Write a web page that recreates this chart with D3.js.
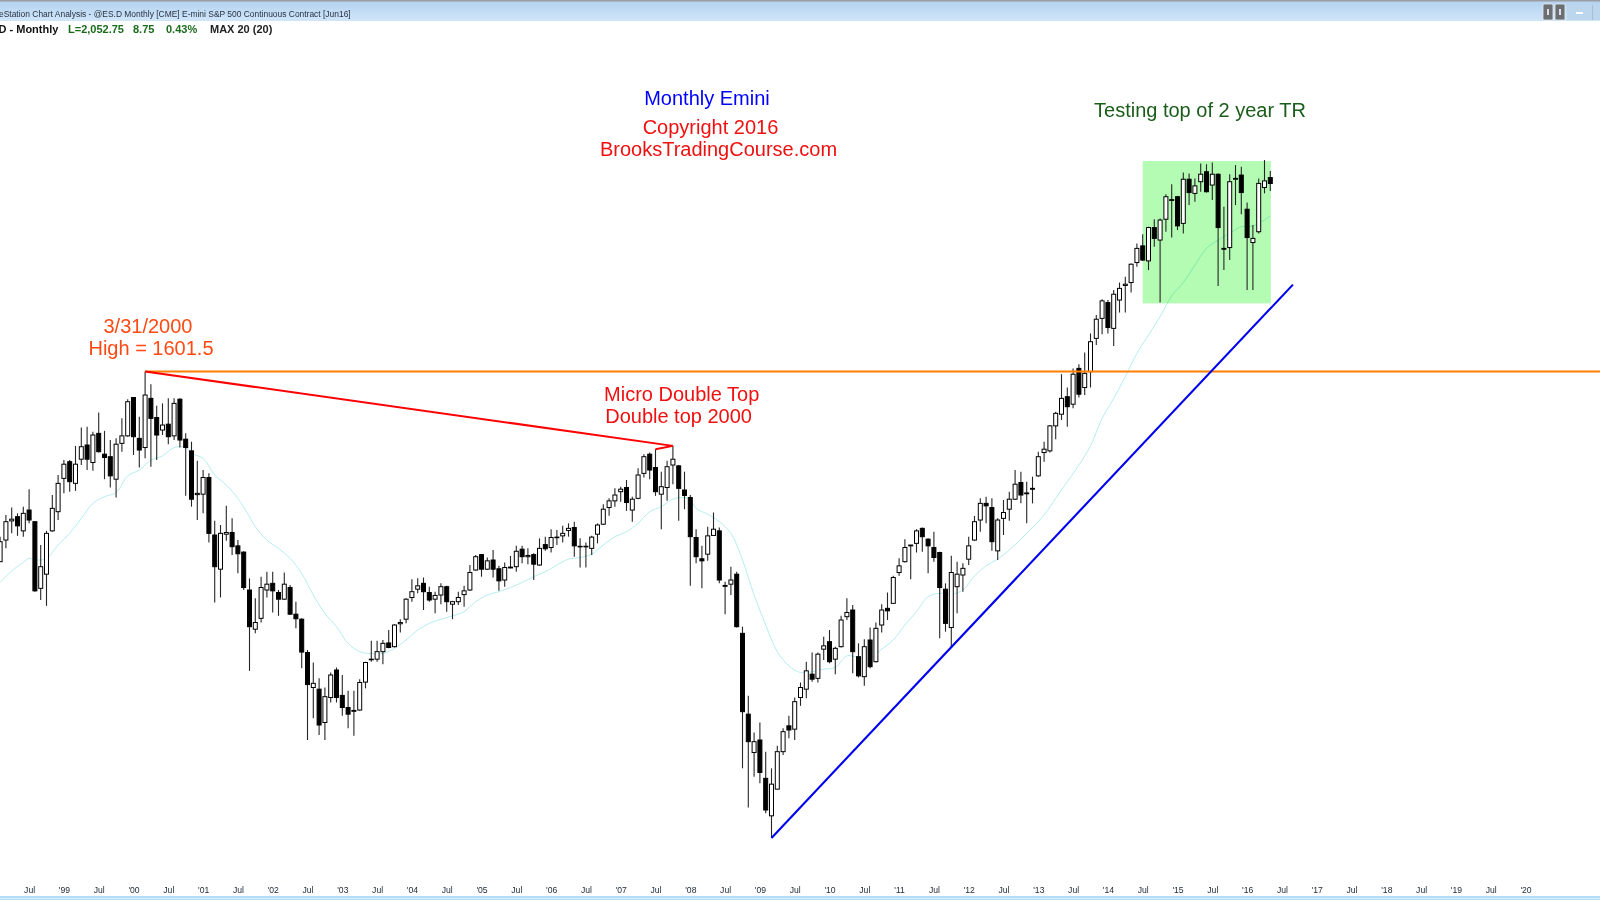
<!DOCTYPE html>
<html>
<head>
<meta charset="utf-8">
<title>Monthly Emini</title>
<script src="https://cdn.jsdelivr.net/npm/d3@7/dist/d3.min.js"></script>
<style>
  html, body { margin: 0; padding: 0; background: #fff; }
  svg { display: block; }
  text { font-family: "Liberation Sans", Arial, sans-serif; }
</style>
</head>
<body>
<div id="chart"></div>
<script>
// ES monthly bars, Feb 1998 to May 2016 (bar 0 = Feb 98)
var opens = [
  1145,1197,1243,1253,1219,1269,1241,1081,1115,1219,
  1265,1345,1385,1333,1391,1425,1383,1453,1403,1397,
  1343,1429,1447,1539,1441,1419,1537,1491,1461,1475,
  1447,1535,1439,1411,1306,1307,1347,1209,1127,1211,
  1215,1183,1168,1077,983,1009,1077,1093,1071,1055,
  1083,1019,1007,927,843,839,759,819,885,824,
  795,788,789,856,911,911,929,950,941,996,
  1007,1059,1079,1093,1071,1055,1065,1085,1043,1049,
  1066,1077,1125,1162,1127,1149,1128,1101,1130,1133,
  1175,1157,1162,1137,1186,1179,1203,1207,1220,1227,
  1182,1181,1177,1211,1235,1275,1291,1313,1323,1269,
  1297,1357,1403,1371,1307,1323,1377,1375,1317,1299,
  1203,1152,1163,1208,1219,1088,1091,1115,973,779,
  687,717,625,535,599,689,751,743,819,839,
  875,865,935,953,911,941,1013,1029,917,869,
  957,905,993,1033,1045,1119,1145,1183,1189,1225,
  1199,1179,1167,1079,987,1085,1113,1151,1197,1245,
  1285,1275,1171,1249,1271,1295,1335,1310,1321,1351,
  1407,1411,1471,1499,1541,1523,1609,1563,1601,1681,
  1729,1767,1705,1773,1808,1815,1863,1903,1867,1947,
  1917,1967,2014,2021,1957,2063,2029,2057,2081,2049,
  2075,1897,1899,2063,2073,1991,1911,1937,2043,2067
];
var highs = [
  1205,1257,1275,1261,1277,1319,1241,1185,1219,1305,
  1353,1389,1389,1423,1467,1469,1457,1503,1459,1437,
  1441,1489,1535,1539,1493,1601.5,1571,1519,1525,1537,
  1537,1537,1453,1433,1387,1365,1357,1243,1233,1279,
  1249,1197,1170,1105,1057,1109,1121,1121,1077,1119,
  1089,1049,1009,933,903,865,843,879,891,873,
  835,835,863,905,955,955,957,981,995,1007,
  1057,1103,1105,1107,1085,1073,1093,1087,1051,1073,
  1087,1137,1161,1163,1155,1173,1135,1143,1159,1183,
  1183,1177,1165,1201,1205,1223,1221,1231,1237,1241,
  1201,1191,1207,1237,1283,1297,1321,1325,1341,1301,
  1369,1403,1407,1415,1361,1387,1423,1377,1361,1305,
  1223,1183,1229,1263,1227,1097,1133,1121,989,823,
  735,759,689,649,703,745,775,819,855,905,
  927,927,965,981,941,1015,1057,1041,949,959,
  987,999,1043,1071,1111,1153,1199,1185,1223,1227,
  1201,1217,1169,1093,1159,1145,1141,1205,1255,1297,
  1301,1297,1249,1293,1313,1365,1361,1337,1349,1409,
  1433,1473,1505,1595,1563,1609,1619,1647,1693,1737,
  1775,1773,1797,1815,1829,1861,1909,1931,1949,1967,
  1969,2027,2051,2023,2079,2077,2065,2101,2099,2103,
  2077,1997,2075,2097,2093,2007,1953,2065,2109,2083
];
var lows = [
  1145,1177,1213,1207,1205,1237,1073,1053,1039,1217,
  1245,1309,1313,1315,1377,1365,1363,1407,1343,1323,
  1299,1409,1445,1401,1371,1393,1373,1389,1449,1427,
  1437,1419,1303,1277,1245,1261,1191,1047,1059,1195,
  1161,1117,1077,883,973,999,1059,1023,1015,1053,
  1017,985,889,717,769,729,717,807,807,775,
  745,727,787,841,905,905,899,937,939,975,
  997,1049,1069,1029,1049,1021,1043,1025,1007,1041,
  1037,1075,1123,1109,1125,1107,1075,1085,1129,1121,
  1141,1139,1101,1135,1171,1167,1185,1191,1205,1157,
  1131,1131,1161,1189,1233,1255,1277,1289,1267,1241,
  1295,1347,1343,1303,1223,1291,1331,1243,1271,1087,
  1141,1081,1147,1207,1093,1019,1065,987,649,555,
  629,613,541,482,598,681,721,717,799,817,
  857,855,909,901,875,939,1005,877,867,847,
  889,903,975,1005,1044,1111,1143,1103,1167,1169,
  1117,1145,961,977,939,1021,1073,1137,1195,1217,
  1237,1171,1149,1209,1243,1293,1285,1237,1285,1349,
  1385,1407,1439,1485,1469,1513,1539,1545,1563,1665,
  1691,1693,1663,1743,1743,1791,1853,1867,1845,1901,
  1767,1937,1923,1941,1933,2001,2009,2033,2031,2013,
  1807,1845,1869,2001,1979,1797,1797,1933,2029,2035
];
var closes = [
  1193,1241,1247,1231,1261,1245,1075,1133,1213,1273,
  1333,1379,1337,1379,1421,1391,1449,1409,1395,1351,
  1427,1447,1529,1445,1413,1545,1489,1449,1473,1445,
  1525,1437,1419,1295,1309,1347,1213,1133,1213,1215,
  1181,1164,1083,989,999,1083,1091,1075,1055,1091,
  1019,1008,928,850,853,753,821,873,819,795,
  779,786,855,903,910,929,949,939,993,999,
  1055,1073,1087,1073,1053,1064,1085,1049,1049,1059,
  1075,1119,1157,1127,1147,1127,1099,1131,1132,1170,
  1157,1160,1139,1177,1176,1203,1204,1213,1225,1183,
  1181,1182,1204,1233,1271,1291,1305,1319,1287,1295,
  1353,1397,1365,1313,1325,1373,1391,1321,1304,1205,
  1157,1147,1207,1223,1101,1086,1101,989,785,713,
  713,639,549,611,689,737,741,809,843,883,
  863,923,943,905,937,1005,1023,929,871,941,
  893,985,1029,1027,1107,1135,1179,1185,1219,1205,
  1183,1155,1083,997,1119,1115,1129,1183,1241,1285,
  1279,1193,1245,1263,1295,1331,1305,1308,1319,1397,
  1415,1471,1501,1537,1517,1595,1547,1597,1673,1727,
  1771,1707,1787,1801,1811,1859,1897,1869,1947,1921,
  1965,2021,2012,1951,2063,2031,2047,2075,2033,2075,
  1947,1895,2057,2065,2031,1923,1921,2053,2059,2052.75
];

// 20 period average, read every couple of bars
var maBars = [0,2,4,5,6,8,10,12,14,16,18,20,22,24,26,28,30,32,33,35,37,39,41,43,44,46,
  48,50,52,54,56,58,60,62,64,66,68,70,72,74,76,78,80,82,84,86,88,90,92,94,96,98,
  100,102,104,106,108,110,112,114,116,118,119,120,122,124,126,128,130,132,134,136,138,
  140,142,144,146,148,150,152,154,156,158,160,162,164,166,168,170,172,174,176,178,
  180,182,184,186,188,190,192,194,196,198,200,202,204,206,208,210,212,214,216,218,219];
var maValues = [1095,1123,1143,1153,1149,1153,1185,1213,1249,1285,1301,1311,1351,1365,1389,1399,1419,1419,1405,1393,1353,1329,1297,1253,1229,1197,
  1177,1153,1117,1065,1021,989,949,929,924,925,937,957,981,997,1007,1015,1025,1049,1065,1073,1083,1095,1109,1121,1137,1151,
  1155,1163,1185,1205,1217,1237,1265,1277,1295,1299,1293,1273,1259,1241,1213,1149,1065,993,929,895,879,
  881,887,891,919,915,913,935,957,993,1025,1061,1069,1067,1077,1111,1135,1151,1173,1199,1227,
  1257,1297,1337,1377,1423,1489,1537,1589,1645,1689,1733,1783,1815,1857,1897,1917,1933,1949,1951,1965,1975];

// bottom labels, one every 6 months starting Jul 98
var tickLabels = ["Jul","'99","Jul","'00","Jul","'01","Jul","'02","Jul","'03","Jul","'04",
  "Jul","'05","Jul","'06","Jul","'07","Jul","'08","Jul","'09","Jul","'10","Jul","'11",
  "Jul","'12","Jul","'13","Jul","'14","Jul","'15","Jul","'16","Jul","'17","Jul","'18",
  "Jul","'19","Jul","'20"];
var tickBars = tickLabels.map(function(d, i) { return 5 + i * 6; });

// drawn objects on the chart, in bars and price
var highPrice = 1601.5;
var highBar = 25;
var doubleTopBar = 116;
var doubleTopPrice = 1423;
var pullbackBar = 113;
var pullbackPrice = 1415;
var trendBars = [133, 222.9];
var trendPrices = [482, 1810];
var boxBars = [197, 219.1];
var boxPrices = [2106.6, 1765];

var W = 1600, H = 900;

var svg = d3.select("#chart").append("svg").attr("width", W).attr("height", H);

var x = d3.scaleLinear().domain([0, 219]).range([0.1, 1270.3]);
var y = d3.scaleLinear().domain([1601.5, 2052.75]).range([371.5, 183.5]);

// top window bar
var defs = svg.append("defs");
var grad = defs.append("linearGradient").attr("id", "bar").attr("x1", 0).attr("x2", 0).attr("y1", 0).attr("y2", 1);
grad.append("stop").attr("offset", "0%").attr("stop-color", "#b3d1ee");
grad.append("stop").attr("offset", "100%").attr("stop-color", "#cfe5fa");
svg.append("rect").attr("x", 0).attr("y", 0).attr("width", W).attr("height", 21).attr("fill", "url(#bar)");
svg.append("rect").attr("x", 0).attr("y", 0).attr("width", W).attr("height", 1.5).attr("fill", "#9a9ea3");
svg.append("text").attr("x", -1).attr("y", 16.5).attr("font-size", 8.45).attr("fill", "#2a3440")
  .text("eStation Chart Analysis - @ES.D Monthly [CME] E-mini S&P 500 Continuous Contract [Jun16]");

// window buttons
[1543, 1555].forEach(function(bx) {
  svg.append("rect").attr("x", bx).attr("y", 4).attr("width", 10).attr("height", 16).attr("rx", 1.5)
    .attr("fill", "#6c6f72").attr("stroke", "#e8eef4").attr("stroke-width", 0.8);
  svg.append("rect").attr("x", bx + 4).attr("y", 9).attr("width", 2).attr("height", 6).attr("fill", "#dde");
});
svg.append("rect").attr("x", 1567).attr("y", 5).attr("width", 33).attr("height", 15).attr("fill", "#bcd6ee");
svg.append("rect").attr("x", 1576).attr("y", 12).attr("width", 7).attr("height", 2).attr("fill", "#fff");
svg.append("rect").attr("x", 1592).attr("y", 5).attr("width", 1).attr("height", 15).attr("fill", "#a7c0d8");

// status line
var statusItems = [
  {x: -1.5, t: "D - Monthly", c: "#111"},
  {x: 68, t: "L=2,052.75", c: "#1a6b1a"},
  {x: 133, t: "8.75", c: "#1a6b1a"},
  {x: 166, t: "0.43%", c: "#1a6b1a"},
  {x: 210, t: "MAX 20 (20)", c: "#222"}
];
svg.selectAll("text.status").data(statusItems).enter().append("text")
  .attr("class", "status")
  .attr("x", function(d) { return d.x; })
  .attr("y", 33)
  .attr("font-size", 11)
  .attr("font-weight", "bold")
  .attr("fill", function(d) { return d.c; })
  .text(function(d) { return d.t; });

// green box sits under the candles
svg.append("rect")
  .attr("x", x(boxBars[0]))
  .attr("y", y(boxPrices[0]))
  .attr("width", x(boxBars[1]) - x(boxBars[0]))
  .attr("height", y(boxPrices[1]) - y(boxPrices[0]))
  .attr("fill", "#b4fcb4");

// moving average
var maLine = d3.line()
  .x(function(d, i) { return x(maBars[i]); })
  .y(function(d) { return y(d); })
  .curve(d3.curveCatmullRom);
svg.append("path").datum(maValues)
  .attr("d", maLine)
  .attr("fill", "none")
  .attr("stroke", "#aeeaec")
  .attr("stroke-width", 0.9)
  .style("mix-blend-mode", "multiply");

// candles
var bars = d3.range(closes.length);
svg.append("g").selectAll("line").data(bars).enter().append("line")
  .attr("x1", function(i) { return x(i); })
  .attr("x2", function(i) { return x(i); })
  .attr("y1", function(i) { return y(highs[i]); })
  .attr("y2", function(i) { return y(lows[i]); })
  .attr("stroke", "#262626")
  .attr("stroke-width", 1.1);
svg.append("g").selectAll("rect").data(bars).enter().append("rect")
  .attr("x", function(i) { return x(i) - 2; })
  .attr("width", 4)
  .attr("y", function(i) { return y(Math.max(opens[i], closes[i])); })
  .attr("height", function(i) { return Math.max(0.6, Math.abs(y(opens[i]) - y(closes[i]))); })
  .attr("fill", function(i) { return closes[i] >= opens[i] ? "#fff" : "#000"; })
  .attr("stroke", "#000")
  .attr("stroke-width", 1);

// trend lines
svg.append("line")
  .attr("x1", x(highBar)).attr("x2", W)
  .attr("y1", y(highPrice)).attr("y2", y(highPrice))
  .attr("stroke", "#ff7f00").attr("stroke-width", 2);
svg.append("polyline")
  .attr("points", [[x(highBar), y(highPrice)], [x(doubleTopBar), y(doubleTopPrice)], [x(pullbackBar), y(pullbackPrice)]].join(" "))
  .attr("fill", "none").attr("stroke", "#ff0000").attr("stroke-width", 2);
svg.append("line")
  .attr("x1", x(trendBars[0])).attr("x2", x(trendBars[1]))
  .attr("y1", y(trendPrices[0])).attr("y2", y(trendPrices[1]))
  .attr("stroke", "#0000f0").attr("stroke-width", 2.1);

// notes
var notes = [
  {x: 707, y: 104.5, t: "Monthly Emini", c: "#0000ff"},
  {x: 710.5, y: 133.5, t: "Copyright 2016", c: "#f01010"},
  {x: 718.5, y: 155.5, t: "BrooksTradingCourse.com", c: "#f01010"},
  {x: 1200, y: 117, t: "Testing top of 2 year TR", c: "#1a5c1a"},
  {x: 148, y: 332.5, t: "3/31/2000", c: "#ff4a14"},
  {x: 151, y: 354.5, t: "High = 1601.5", c: "#ff4a14"},
  {x: 681.7, y: 400.5, t: "Micro Double Top", c: "#f01010"},
  {x: 678.6, y: 422.5, t: "Double top 2000", c: "#f01010"}
];
svg.selectAll("text.note").data(notes).enter().append("text")
  .attr("class", "note")
  .attr("x", function(d) { return d.x; })
  .attr("y", function(d) { return d.y; })
  .attr("text-anchor", "middle")
  .attr("font-size", 20)
  .attr("fill", function(d) { return d.c; })
  .text(function(d) { return d.t; });

// time axis
var axis = d3.axisBottom(x)
  .tickValues(tickBars)
  .tickFormat(function(d, i) { return tickLabels[i]; })
  .tickSize(0)
  .tickPadding(0);
var axisG = svg.append("g").attr("transform", "translate(0,887)").call(axis);
axisG.select(".domain").remove();
axisG.selectAll("text")
  .attr("font-family", "Liberation Sans, Arial, sans-serif")
  .attr("font-size", 8.6)
  .attr("fill", "#1c2733");

// bottom window edge
svg.append("rect").attr("x", 0).attr("y", 896).attr("width", W).attr("height", 4).attr("fill", "#b5dcf8");
svg.append("rect").attr("x", 0).attr("y", 898).attr("width", W).attr("height", 0.7).attr("fill", "#e6f4fd");
</script>
</body>
</html>
